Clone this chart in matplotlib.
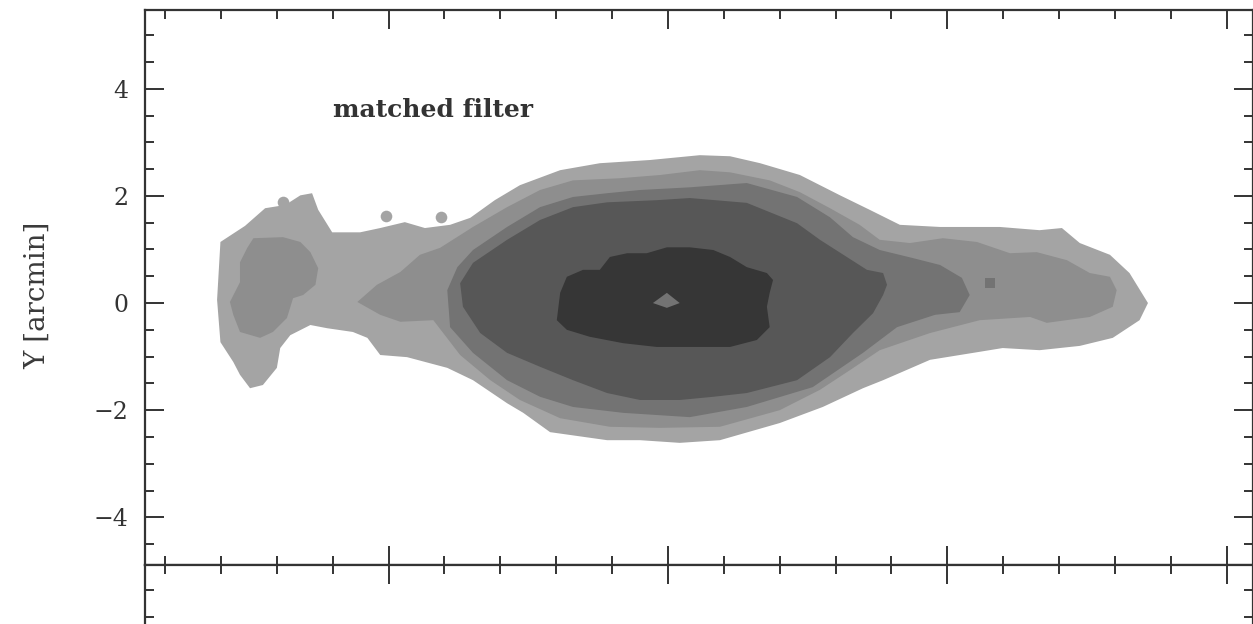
import matplotlib.pyplot as plt
from matplotlib.ticker import MultipleLocator

# grey levels of the filled contours, outermost to core
level_colors = ['#a4a4a4', '#8e8e8e', '#737373', '#575757', '#363636']

# outermost contour (arcmin)
lev1_x = [-8.07, -8.01, -7.57, -7.21, -6.85, -6.58, -6.37, -6.26, -6.01, -5.51, -5.15, -4.71,
          -4.35, -3.90, -3.54, -3.10, -2.65, -1.93, -1.22, -0.32, 0.57, 1.11, 1.65, 2.36, 3.08,
          3.61, 4.15, 4.87, 5.94, 6.65, 7.05, 7.37, 7.91, 8.26, 8.59, 8.44, 7.96, 7.37, 6.65,
          5.99, 5.58, 4.69, 3.85, 3.49, 2.77, 2.00, 0.93, 0.21, -0.50, -1.09, -2.11, -2.59,
          -2.88, -3.49, -3.95, -4.67, -5.15, -5.38, -5.64, -6.10, -6.40, -6.76, -6.94, -7.00,
          -7.25, -7.48, -7.66, -7.78, -8.01]
lev1_y = [0.06, 1.14, 1.44, 1.77, 1.83, 2.01, 2.05, 1.74, 1.32, 1.32, 1.40, 1.51,
          1.40, 1.46, 1.59, 1.92, 2.20, 2.48, 2.61, 2.67, 2.76, 2.74, 2.61, 2.39, 2.01,
          1.74, 1.46, 1.42, 1.42, 1.36, 1.40, 1.12, 0.90, 0.56, 0.00, -0.32, -0.65, -0.80, -0.88,
          -0.84, -0.91, -1.06, -1.44, -1.59, -1.94, -2.24, -2.56, -2.61, -2.56, -2.56, -2.41, -2.05,
          -1.87, -1.44, -1.21, -1.01, -0.97, -0.65, -0.54, -0.47, -0.41, -0.60, -0.84, -1.21,
          -1.53, -1.59, -1.34, -1.10, -0.73]

# isolated knots at the outer level
knot_x = [-6.89, -5.04, -4.06]
knot_y = [1.88, 1.62, 1.60]

# second level: western clump and main body
lev2a_x = [-7.42, -6.89, -6.58, -6.40, -6.26, -6.31, -6.53, -6.71, -6.82, -7.07, -7.30, -7.66,
           -7.78, -7.84, -7.66, -7.66, -7.53]
lev2a_y = [1.21, 1.23, 1.14, 0.95, 0.65, 0.34, 0.15, 0.09, -0.28, -0.54, -0.65, -0.54,
           -0.22, 0.02, 0.39, 0.76, 1.03]
lev2b_x = [-5.56, -5.21, -4.79, -4.44, -4.08, -3.49, -2.88, -2.29, -1.70, -0.86, -0.14, 0.57,
           1.11, 1.82, 2.36, 2.90, 3.43, 3.79, 4.33, 4.92, 5.53, 6.12, 6.60, 7.14, 7.55, 7.91,
           8.03, 7.96, 7.55, 6.78, 6.48, 5.58, 4.69, 3.79, 3.26, 2.72, 2.00, 0.93, -0.14, -1.04,
           -1.93, -2.65, -3.18, -3.72, -4.20, -4.79, -5.15]
lev2b_y = [0.02, 0.34, 0.58, 0.90, 1.03, 1.42, 1.79, 2.11, 2.29, 2.33, 2.39, 2.48,
           2.44, 2.29, 2.07, 1.77, 1.46, 1.18, 1.12, 1.21, 1.14, 0.93, 0.95, 0.80, 0.56, 0.49,
           0.24, -0.07, -0.26, -0.37, -0.26, -0.32, -0.56, -0.88, -1.25, -1.62, -2.00, -2.31, -2.33, -2.31,
           -2.15, -1.81, -1.44, -0.97, -0.32, -0.35, -0.22]

# third level
lev3_x = [-3.95, -3.77, -3.49, -2.88, -2.29, -1.70, -1.09, -0.50, 0.39, 1.41, 2.31, 2.90,
          3.31, 3.79, 4.38, 4.87, 5.26, 5.40, 5.22, 4.78, 4.10, 3.49, 2.59, 1.41, 0.39, -0.80,
          -1.70, -2.29, -2.88, -3.49, -3.90]
lev3_y = [0.24, 0.67, 0.99, 1.42, 1.79, 1.98, 2.05, 2.11, 2.16, 2.24, 1.98, 1.60,
          1.23, 0.99, 0.84, 0.71, 0.47, 0.15, -0.17, -0.22, -0.45, -0.93, -1.57, -1.94, -2.13, -2.05,
          -1.94, -1.75, -1.44, -0.93, -0.45]
spot_x = [5.76]
spot_y = [0.37]

# fourth level
lev4_x = [-3.72, -3.49, -2.88, -2.29, -1.70, -1.09, -0.20, 0.39, 1.41, 2.31, 2.72, 3.20,
          3.56, 3.85, 3.92, 3.85, 3.67, 3.31, 2.90, 2.31, 1.41, 0.81, 0.21, -0.50, -1.09, -1.70,
          -2.29, -2.88, -3.36, -3.67]
lev4_y = [0.37, 0.75, 1.18, 1.55, 1.79, 1.88, 1.92, 1.96, 1.87, 1.49, 1.18, 0.86,
          0.62, 0.56, 0.34, 0.15, -0.19, -0.56, -1.01, -1.44, -1.68, -1.75, -1.81, -1.81, -1.68, -1.44,
          -1.19, -0.93, -0.56, -0.07]

# core
lev5_x = [-1.99, -1.93, -1.81, -1.52, -1.22, -1.04, -0.73, -0.38, -0.02, 0.39, 0.81, 1.11,
          1.41, 1.77, 1.88, 1.82, 1.77, 1.82, 1.59, 1.11, 0.52, -0.20, -0.80, -1.40, -1.81]
lev5_y = [-0.32, 0.19, 0.49, 0.62, 0.62, 0.86, 0.93, 0.93, 1.04, 1.04, 0.99, 0.86,
          0.67, 0.56, 0.43, 0.19, -0.07, -0.45, -0.69, -0.82, -0.82, -0.82, -0.75, -0.63, -0.50]

# small dip right at the centre
hole_x = [-0.27, -0.02, 0.21, -0.02]
hole_y = [0.00, 0.19, 0.00, -0.09]

W, H = 1253, 624
fig = plt.figure(figsize=(W / 100, H / 100), dpi=100)
ax = fig.add_axes([145 / W, 1 - 565 / H, 1108 / W, 555 / H])
ax2 = fig.add_axes([145 / W, 1 - 565 / H - 555 / H, 1108 / W, 555 / H])

ax.fill(lev1_x, lev1_y, color=level_colors[0], lw=0)
ax.scatter(knot_x, knot_y, s=70, color=level_colors[0], lw=0)
ax.fill(lev2a_x, lev2a_y, color=level_colors[1], lw=0)
ax.fill(lev2b_x, lev2b_y, color=level_colors[1], lw=0)
ax.fill(lev3_x, lev3_y, color=level_colors[2], lw=0)
ax.scatter(spot_x, spot_y, s=45, marker='s', color=level_colors[2], lw=0)
ax.fill(lev4_x, lev4_y, color=level_colors[3], lw=0)
ax.fill(lev5_x, lev5_y, color=level_colors[4], lw=0)
ax.fill(hole_x, hole_y, color=level_colors[2], lw=0)

ax.text(-6.0, 3.47, 'matched filter', fontsize=18, family='DejaVu Serif', weight='bold',
        color='#333333')
fig.text(37 / W, 1 - 295 / H, 'Y [arcmin]', rotation=90, fontsize=20, family='DejaVu Serif',
         color='#3a3a3a', ha='center', va='center')

for a in (ax, ax2):
    a.set_xlim(-9.36, 10.47)
    a.set_ylim(-4.89, 5.47)
    a.xaxis.set_major_locator(MultipleLocator(5))
    a.xaxis.set_minor_locator(MultipleLocator(1))
    a.yaxis.set_major_locator(MultipleLocator(2))
    a.yaxis.set_minor_locator(MultipleLocator(0.5))
    a.tick_params(which='both', direction='in', top=True, right=True, labelbottom=False,
                  width=1.4, color='#333333')
    a.tick_params(which='major', length=14)
    a.tick_params(which='minor', length=6.5)
    for s in a.spines.values():
        s.set_linewidth(1.6)
        s.set_color('#333333')

ax.tick_params(axis='y', labelsize=17, pad=12, labelcolor='#333333')
for lab in ax.get_yticklabels():
    lab.set_family('DejaVu Serif')
ax2.tick_params(labelleft=False)

fig.savefig('out.png', dpi=100)
